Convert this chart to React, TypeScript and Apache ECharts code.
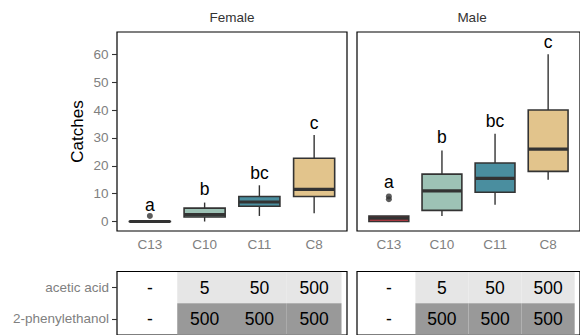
import React, { useEffect, useRef } from 'react';
import * as echarts from 'echarts';

const categories = ['C13', 'C10', 'C11', 'C8'];
const boxColors = ['#CF3A45', '#9DC2B5', '#4A8E9F', '#E2C48C'];
// [min, Q1, median, Q3, max]
const femaleBoxes = [
  [0, 0, 0, 0, 0],
  [0, 1.6, 2.5, 4.8, 6.8],
  [2, 5.5, 7, 9, 13],
  [3, 9, 11.5, 22.7, 31],
];
const maleBoxes = [
  [0, 0, 1.2, 2, 2],
  [2, 4, 11, 17, 25.5],
  [6, 10.5, 15.5, 21, 31.5],
  [15, 18, 26, 40, 60],
];
const femaleOutliers = [[0, 2]];
const maleOutliers = [[0, 8], [0, 9]];
const letters = ['a', 'b', 'bc', 'c'];
const femaleLetterY = [6, 11.7, 17.3, 35.5];
const maleLetterY = [14.3, 30.5, 36.2, 64.5];
const yTicks = [0, 10, 20, 30, 40, 50, 60];
const rowNames = ['2-phenylethanol', 'acetic acid']; // rows at y = 1, 2
const aceticAcid = ['-', '5', '50', '500'];
const phenylethanol = ['-', '500', '500', '500'];
const panels = ['Female', 'Male'];

const FONT = 'Liberation Sans, Arial, Helvetica, sans-serif';
const GRAY = '#808080';
const DARK = '#333333';

function boxSeries(gridIdx: number, boxes: number[][]) {
  return {
    type: 'custom',
    xAxisIndex: gridIdx,
    yAxisIndex: gridIdx,
    data: boxes.map((b, i) => [i, ...b, i]),
    encode: { x: 0, y: [1, 2, 3, 4, 5] },
    renderItem: (params: any, api: any) => {
      const x = api.value(0);
      const ci = api.value(6);
      const w = api.size([0.75, 0])[0];
      const cx = api.coord([x, 0])[0];
      const yLo = api.coord([x, api.value(1)])[1];
      const yQ1 = api.coord([x, api.value(2)])[1];
      const yMd = api.coord([x, api.value(3)])[1];
      const yQ3 = api.coord([x, api.value(4)])[1];
      const yHi = api.coord([x, api.value(5)])[1];
      return {
        type: 'group',
        children: [
          { type: 'line', shape: { x1: cx, y1: yHi, x2: cx, y2: yQ3 }, style: { stroke: DARK, lineWidth: 1.4 } },
          { type: 'line', shape: { x1: cx, y1: yQ1, x2: cx, y2: yLo }, style: { stroke: DARK, lineWidth: 1.4 } },
          {
            type: 'rect',
            shape: { x: cx - w / 2, y: yQ3, width: w, height: Math.max(yQ1 - yQ3, 0.01) },
            style: { fill: boxColors[ci], stroke: DARK, lineWidth: 1.6 },
          },
          { type: 'line', shape: { x1: cx - w / 2, y1: yMd, x2: cx + w / 2, y2: yMd }, style: { stroke: DARK, lineWidth: 3.2 } },
        ],
      };
    },
  };
}

function textSeries(gridIdx: number, points: number[][], texts: string[], fontSize: number, dy = 0) {
  return {
    type: 'custom',
    xAxisIndex: gridIdx,
    yAxisIndex: gridIdx,
    data: points,
    encode: { x: 0, y: 1 },
    z: 10,
    renderItem: (params: any, api: any) => {
      const p = api.coord([api.value(0), api.value(1)]);
      return {
        type: 'text',
        x: p[0],
        y: p[1] + dy,
        style: {
          text: texts[params.dataIndex],
          fill: '#000',
          fontSize,
          fontFamily: FONT,
          align: 'center',
          verticalAlign: 'middle',
        },
      };
    },
  };
}

function tileSeries(gridIdx: number) {
  const data: number[][] = [];
  categories.forEach((_, i) => {
    if (aceticAcid[i] !== '-') data.push([i, 2, 0]);
    if (phenylethanol[i] !== '-') data.push([i, 1, 1]);
  });
  return {
    type: 'custom',
    xAxisIndex: gridIdx,
    yAxisIndex: gridIdx,
    data,
    encode: { x: 0, y: 1 },
    renderItem: (params: any, api: any) => {
      const p = api.coord([api.value(0), api.value(1)]);
      const s = api.size([1, 1]);
      return {
        type: 'rect',
        shape: { x: p[0] - s[0] / 2, y: p[1] - s[1] / 2, width: s[0], height: s[1] },
        style: { fill: api.value(2) === 0 ? '#E6E6E6' : '#999999' },
      };
    },
  };
}

export default function App() {
  const ref = useRef<HTMLDivElement>(null);
  useEffect(() => {
    if (!ref.current) return;
    const chart = echarts.init(ref.current, null, { renderer: 'svg' });
    const grids = [
      { left: 117, top: 32, width: 230, height: 199 },
      { left: 357, top: 32, width: 230, height: 199 },
      { left: 117, top: 271.5, width: 230, height: 66 },
      { left: 357, top: 271.5, width: 230, height: 66 },
    ].map((g) => ({ ...g, show: true, borderColor: '#000', borderWidth: 1.2, containLabel: false }));

    const xAxes = [0, 1, 2, 3].map((gi) => ({
      type: 'value',
      gridIndex: gi,
      position: 'bottom',
      min: -0.6,
      max: 3.6,
      axisLine: { show: false, onZero: false },
      axisTick: { show: false },
      splitLine: { show: false },
      axisLabel: {
        show: gi < 2,
        customValues: [0, 1, 2, 3],
        formatter: (v: number) => categories[Math.round(v)],
        margin: 6,
        color: GRAY,
        fontSize: 13.5,
        fontFamily: FONT,
      },
    }));

    const yAxes = [
      {
        type: 'value', gridIndex: 0, position: 'left', min: -3.4, max: 68,
        axisLine: { show: false, onZero: false }, splitLine: { show: false },
        axisTick: { show: true, customValues: yTicks, length: 5, lineStyle: { color: DARK, width: 1.1 } },
        axisLabel: { show: true, customValues: yTicks, margin: 8.5, color: GRAY, fontSize: 13.5, fontFamily: FONT },
      },
      {
        type: 'value', gridIndex: 1, position: 'left', min: -3.4, max: 68,
        axisLine: { show: false, onZero: false }, splitLine: { show: false }, axisTick: { show: false }, axisLabel: { show: false },
      },
      {
        type: 'value', gridIndex: 2, position: 'left', min: 0.48, max: 2.52,
        axisLine: { show: false, onZero: false }, splitLine: { show: false },
        axisTick: { show: true, customValues: [1, 2], length: 5, lineStyle: { color: DARK, width: 1.1 } },
        axisLabel: {
          show: true, customValues: [1, 2], margin: 8, color: GRAY, fontSize: 13.5, fontFamily: FONT,
          formatter: (v: number) => rowNames[Math.round(v) - 1],
        },
      },
      {
        type: 'value', gridIndex: 3, position: 'left', min: 0.48, max: 2.52,
        axisLine: { show: false, onZero: false }, splitLine: { show: false }, axisTick: { show: false }, axisLabel: { show: false },
      },
    ];

    const tablePoints: number[][] = [];
    const tableTexts: string[] = [];
    categories.forEach((_, i) => {
      tablePoints.push([i, 2]);
      tableTexts.push(aceticAcid[i]);
      tablePoints.push([i, 1]);
      tableTexts.push(phenylethanol[i]);
    });

    const series: any[] = [
      boxSeries(0, femaleBoxes),
      boxSeries(1, maleBoxes),
      {
        type: 'scatter', xAxisIndex: 0, yAxisIndex: 0, data: femaleOutliers,
        symbolSize: 6, itemStyle: { color: DARK }, z: 5,
      },
      {
        type: 'scatter', xAxisIndex: 1, yAxisIndex: 1, data: maleOutliers,
        symbolSize: 6, itemStyle: { color: DARK }, z: 5,
      },
      textSeries(0, femaleLetterY.map((y, i) => [i, y]), letters, 17.5),
      textSeries(1, maleLetterY.map((y, i) => [i, y]), letters, 17.5),
      tileSeries(2),
      tileSeries(3),
      textSeries(2, tablePoints, tableTexts, 17.5),
      textSeries(3, tablePoints, tableTexts, 17.5),
    ];

    chart.setOption({
      animation: false,
      backgroundColor: '#ffffff',
      grid: grids,
      xAxis: xAxes,
      yAxis: yAxes,
      series,
      graphic: [
        {
          type: 'text', x: 77, y: 131.5, rotation: Math.PI / 2,
          style: { text: 'Catches', fontSize: 17, fontFamily: FONT, fill: '#000', align: 'center', verticalAlign: 'middle' },
        },
        {
          type: 'text', x: 232, y: 17,
          style: { text: panels[0], fontSize: 13.5, fontFamily: FONT, fill: '#333', align: 'center', verticalAlign: 'middle' },
        },
        {
          type: 'text', x: 472, y: 17,
          style: { text: panels[1], fontSize: 13.5, fontFamily: FONT, fill: '#333', align: 'center', verticalAlign: 'middle' },
        },
      ],
    });
    return () => chart.dispose();
  }, []);
  return <div ref={ref} style={{ position: 'absolute', left: 0, top: 0, width: 580, height: 335 }} />;
}
